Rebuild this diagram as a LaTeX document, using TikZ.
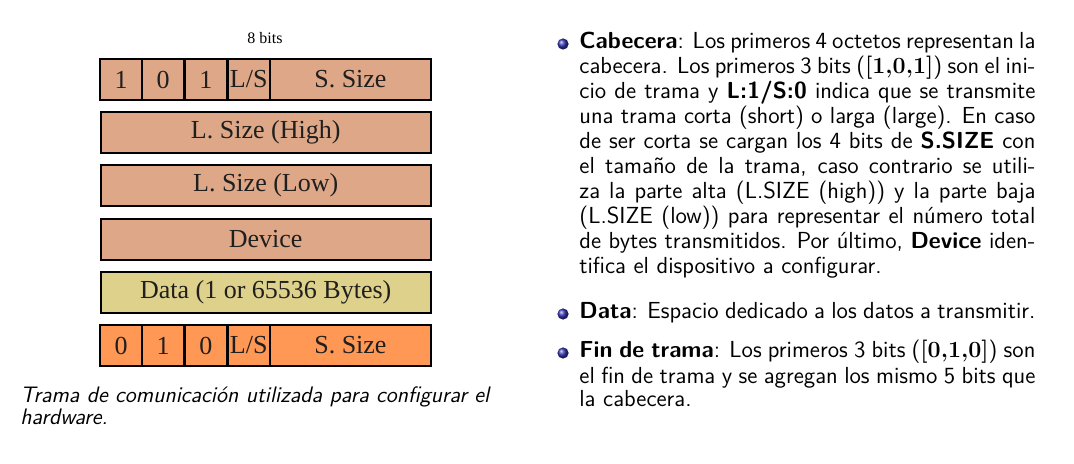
\documentclass[tikz,border=0pt]{standalone}
\usepackage{fontspec}
\newfontfamily\fieldfont{Liberation Serif}

% field colours of the frame layout
\definecolor{hdrfill}{RGB}{222,168,136}
\definecolor{datafill}{RGB}{222,209,139}
\definecolor{endfill}{RGB}{255,152,84}
\definecolor{structure}{rgb}{0.2,0.2,0.7}

\newcommand{\bitlist}[1]{\textbf{\rmfamily #1}}

\tikzset{
  field/.style={draw=black, line width=1.1pt, minimum height=20.5pt,
    inner sep=0pt, font=\fieldfont\fontsize{13}{14}\selectfont, text=black!88},
  hdr/.style={field, fill=hdrfill},
  datafield/.style={field, fill=datafill},
  endfield/.style={field, fill=endfill},
  wide/.style={minimum width=165pt},
  bitcell/.style={minimum width=21.3pt},
  sizecell/.style={minimum width=80.3pt},
  bulletball/.style={circle, inner sep=0pt, minimum size=5.6pt, shade, ball color=structure},
  itemtext/.style={anchor=north west, inner sep=0pt, text width=228pt, align=justify,
    font=\sffamily\fontsize{11.6}{12.5}\selectfont},
  lastitem/.style={itemtext, font=\sffamily\fontsize{11.6}{11.5}\selectfont},
  captext/.style={anchor=north west, inner sep=0pt, text width=260pt, align=left,
    font=\sffamily\itshape\fontsize{11.2}{8.2}\selectfont},
}

\begin{document}
\begin{tikzpicture}[x=0.5pt,y=-0.5pt]
\useasboundingbox (0,0) rectangle (1074,464);

% width label
\node[font=\fieldfont\fontsize{8}{9}\selectfont] (bits) at (265,38) {8 bits};

% start-of-frame byte
\node[hdr, bitcell] (s1) at (121.2,79.5) {1};
\node[hdr, bitcell] (s2) at (163.0,79.5) {0};
\node[hdr, bitcell] (s3) at (205.8,79.5) {1};
\node[hdr, bitcell] (s4) at (248.7,79.5) {L/S};
\node[hdr, sizecell] (s5) at (350.4,79.5) {S. Size};

% header bytes
\node[hdr, wide] (hi)  at (265.7,132.5) {L. Size (High)};
\node[hdr, wide] (lo)  at (265.7,185.5) {L. Size (Low)};
\node[hdr, wide] (dev) at (265.7,239.5) {Device};

% payload
\node[datafield, wide] (data) at (265.7,292.5) {Data (1 or 65536 Bytes)};

% end-of-frame byte
\node[endfield, bitcell] (e1) at (121.2,345.5) {0};
\node[endfield, bitcell] (e2) at (163.0,345.5) {1};
\node[endfield, bitcell] (e3) at (205.8,345.5) {0};
\node[endfield, bitcell] (e4) at (248.7,345.5) {L/S};
\node[endfield, sizecell] (e5) at (350.4,345.5) {S. Size};

% caption
\node[captext] (cap) at (20,386) {Trama de comunicación utilizada para configurar el\\hardware.};

% description list
\node[bulletball] (b1) at (563,44) {};
\node[itemtext] (t1) at (579,31) {\strut\textbf{Cabecera}: Los primeros 4 octetos representan la\linebreak
cabecera. Los primeros 3 bits (\bitlist{[1,0,1]}) son el ini-\linebreak
cio de trama y \textbf{L:1/S:0} indica que se transmite\linebreak
una trama corta (short) o larga (large). En caso\linebreak
de ser corta se cargan los 4 bits de \textbf{S.SIZE} con\linebreak
el tamaño de la trama, caso contrario se utili-\linebreak
za la parte alta (L.SIZE (high)) y la parte baja\linebreak
(L.SIZE (low)) para representar el número total\linebreak
de bytes transmitidos. Por último, \textbf{Device} iden-\linebreak
tifica el dispositivo a configurar.};

\node[bulletball] (b2) at (563,314) {};
\node[itemtext] (t2) at (579,301) {\strut\textbf{Data}: Espacio dedicado a los datos a transmitir.};

\node[bulletball] (b3) at (563,353) {};
\node[lastitem] (t3) at (579,340) {\strut\textbf{Fin de trama}: Los primeros 3 bits (\bitlist{[0,1,0]}) son\linebreak
el fin de trama y se agregan los mismo 5 bits que\linebreak
la cabecera.};
\end{tikzpicture}
\end{document}
